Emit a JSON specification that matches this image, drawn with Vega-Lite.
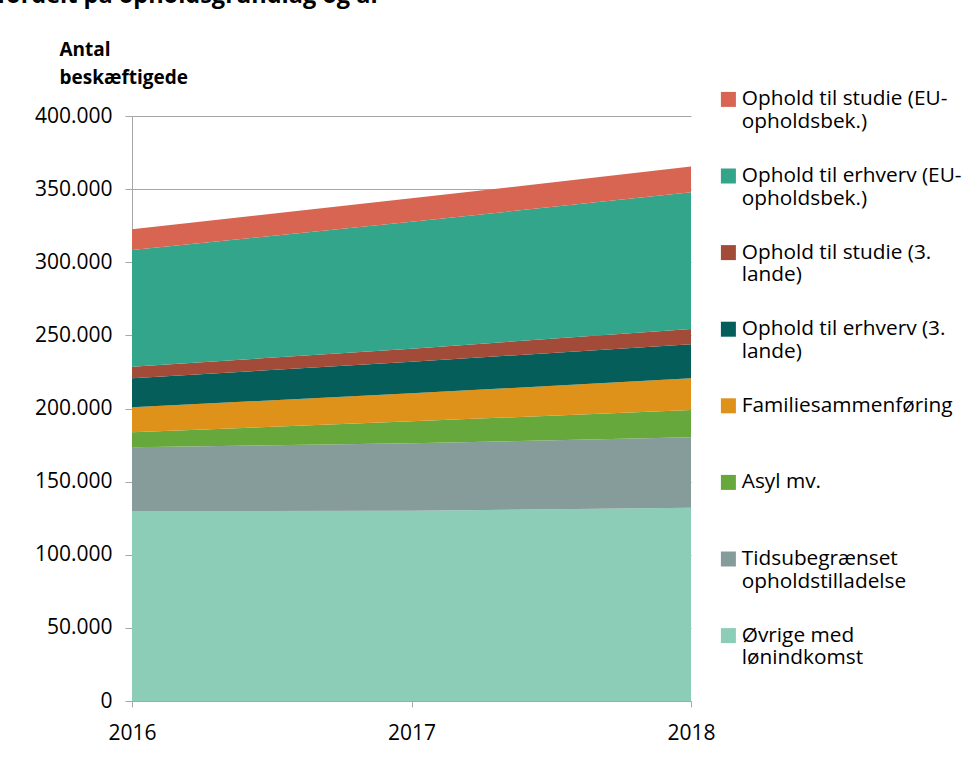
{
  "$schema": "https://vega.github.io/schema/vega-lite/v6.json",
  "width": 559,
  "height": 585,
  "autosize": {"type": "none"},
  "padding": {"left": 132, "top": 116, "right": 272, "bottom": 68},
  "background": "white",
  "config": {
    "locale": {"number": {"decimal": ",", "thousands": ".", "grouping": [3], "currency": ["", " kr."]}},
    "view": {"stroke": null},
    "font": "Open Sans"
  },
  "title": {
    "text": "fordelt på opholdsgrundlag og år",
    "anchor": "start",
    "frame": "group",
    "dx": -135,
    "offset": 33,
    "fontSize": 23.5,
    "fontWeight": "bold",
    "font": "Open Sans",
    "color": "#000000"
  },
  "data": {
    "values": [
      {"year": "2016", "series": "Øvrige med lønindkomst", "value": 129900},
      {"year": "2017", "series": "Øvrige med lønindkomst", "value": 130100},
      {"year": "2018", "series": "Øvrige med lønindkomst", "value": 132200},
      {"year": "2016", "series": "Tidsubegrænset opholdstilladelse", "value": 43600},
      {"year": "2017", "series": "Tidsubegrænset opholdstilladelse", "value": 46100},
      {"year": "2018", "series": "Tidsubegrænset opholdstilladelse", "value": 48200},
      {"year": "2016", "series": "Asyl mv.", "value": 10200},
      {"year": "2017", "series": "Asyl mv.", "value": 15000},
      {"year": "2018", "series": "Asyl mv.", "value": 18600},
      {"year": "2016", "series": "Familiesammenføring", "value": 17100},
      {"year": "2017", "series": "Familiesammenføring", "value": 19200},
      {"year": "2018", "series": "Familiesammenføring", "value": 21600},
      {"year": "2016", "series": "Ophold til erhverv (3. lande)", "value": 19800},
      {"year": "2017", "series": "Ophold til erhverv (3. lande)", "value": 21600},
      {"year": "2018", "series": "Ophold til erhverv (3. lande)", "value": 23300},
      {"year": "2016", "series": "Ophold til studie (3. lande)", "value": 8000},
      {"year": "2017", "series": "Ophold til studie (3. lande)", "value": 8900},
      {"year": "2018", "series": "Ophold til studie (3. lande)", "value": 10500},
      {"year": "2016", "series": "Ophold til erhverv (EU-opholdsbek.)", "value": 79800},
      {"year": "2017", "series": "Ophold til erhverv (EU-opholdsbek.)", "value": 86800},
      {"year": "2018", "series": "Ophold til erhverv (EU-opholdsbek.)", "value": 93400},
      {"year": "2016", "series": "Ophold til studie (EU-opholdsbek.)", "value": 14100},
      {"year": "2017", "series": "Ophold til studie (EU-opholdsbek.)", "value": 16000},
      {"year": "2018", "series": "Ophold til studie (EU-opholdsbek.)", "value": 17600}
    ]
  },
  "transform": [
    {
      "calculate": "indexof(['Øvrige med lønindkomst', 'Tidsubegrænset opholdstilladelse', 'Asyl mv.', 'Familiesammenføring', 'Ophold til erhverv (3. lande)', 'Ophold til studie (3. lande)', 'Ophold til erhverv (EU-opholdsbek.)', 'Ophold til studie (EU-opholdsbek.)'], datum.series)",
      "as": "stackOrder"
    }
  ],
  "mark": {"type": "area", "opacity": 1},
  "encoding": {
    "x": {
      "field": "year",
      "type": "ordinal",
      "scale": {"padding": 0},
      "axis": {
        "title": null,
        "labelAngle": 0,
        "grid": false,
        "domainColor": "#a6a6a6",
        "tickColor": "#a6a6a6",
        "tickSize": 6,
        "labelFontSize": 21,
        "labelColor": "#000000",
        "labelPadding": 15
      }
    },
    "y": {
      "field": "value",
      "type": "quantitative",
      "stack": "zero",
      "scale": {"domain": [0, 400000], "nice": false},
      "axis": {
        "title": ["Antal", "beskæftigede"],
        "titleAngle": 0,
        "titleAlign": "left",
        "titleBaseline": "alphabetic",
        "titleX": -73,
        "titleY": -61,
        "titleFontSize": 19,
        "titleFontWeight": "bold",
        "titleLineHeight": 28,
        "titleColor": "#000000",
        "values": [0, 50000, 100000, 150000, 200000, 250000, 300000, 350000, 400000],
        "format": ",d",
        "grid": true,
        "gridColor": "#a6a6a6",
        "domainColor": "#a6a6a6",
        "tickColor": "#a6a6a6",
        "tickSize": 7,
        "labelFontSize": 21,
        "labelColor": "#000000",
        "labelPadding": 13
      }
    },
    "order": {"field": "stackOrder", "type": "quantitative", "sort": "ascending"},
    "color": {
      "field": "series",
      "type": "nominal",
      "sort": [
        "Ophold til studie (EU-opholdsbek.)",
        "Ophold til erhverv (EU-opholdsbek.)",
        "Ophold til studie (3. lande)",
        "Ophold til erhverv (3. lande)",
        "Familiesammenføring",
        "Asyl mv.",
        "Tidsubegrænset opholdstilladelse",
        "Øvrige med lønindkomst"
      ],
      "scale": {
        "domain": [
          "Ophold til studie (EU-opholdsbek.)",
          "Ophold til erhverv (EU-opholdsbek.)",
          "Ophold til studie (3. lande)",
          "Ophold til erhverv (3. lande)",
          "Familiesammenføring",
          "Asyl mv.",
          "Tidsubegrænset opholdstilladelse",
          "Øvrige med lønindkomst"
        ],
        "range": ["#d86452", "#33a58a", "#a34b39", "#055e5a", "#de921a", "#67a83c", "#869c9b", "#8ccdb8"]
      },
      "legend": {
        "title": null,
        "orient": "none",
        "legendX": 586,
        "legendY": -27,
        "symbolType": "square",
        "symbolSize": 225,
        "symbolStrokeWidth": 0,
        "labelFontSize": 20.8,
        "labelColor": "#000000",
        "labelLimit": 300,
        "labelOffset": 3,
        "labelBaseline": "middle",
        "rowPadding": 32.6,
        "labelExpr": "datum.label == 'Ophold til studie (EU-opholdsbek.)' ? ['Ophold til studie (EU-', 'opholdsbek.)'] : datum.label == 'Ophold til erhverv (EU-opholdsbek.)' ? ['Ophold til erhverv (EU-', 'opholdsbek.)'] : datum.label == 'Ophold til studie (3. lande)' ? ['Ophold til studie (3.', 'lande)'] : datum.label == 'Ophold til erhverv (3. lande)' ? ['Ophold til erhverv (3.', 'lande)'] : datum.label == 'Tidsubegrænset opholdstilladelse' ? ['Tidsubegrænset', 'opholdstilladelse'] : datum.label == 'Øvrige med lønindkomst' ? ['Øvrige med', 'lønindkomst'] : [datum.label, '']",
        "labelFont": "Open Sans",
        "encode": {"labels": {"update": {"lineHeight": {"value": 28}, "dy": {"value": 14}}}}
      }
    }
  }
}
